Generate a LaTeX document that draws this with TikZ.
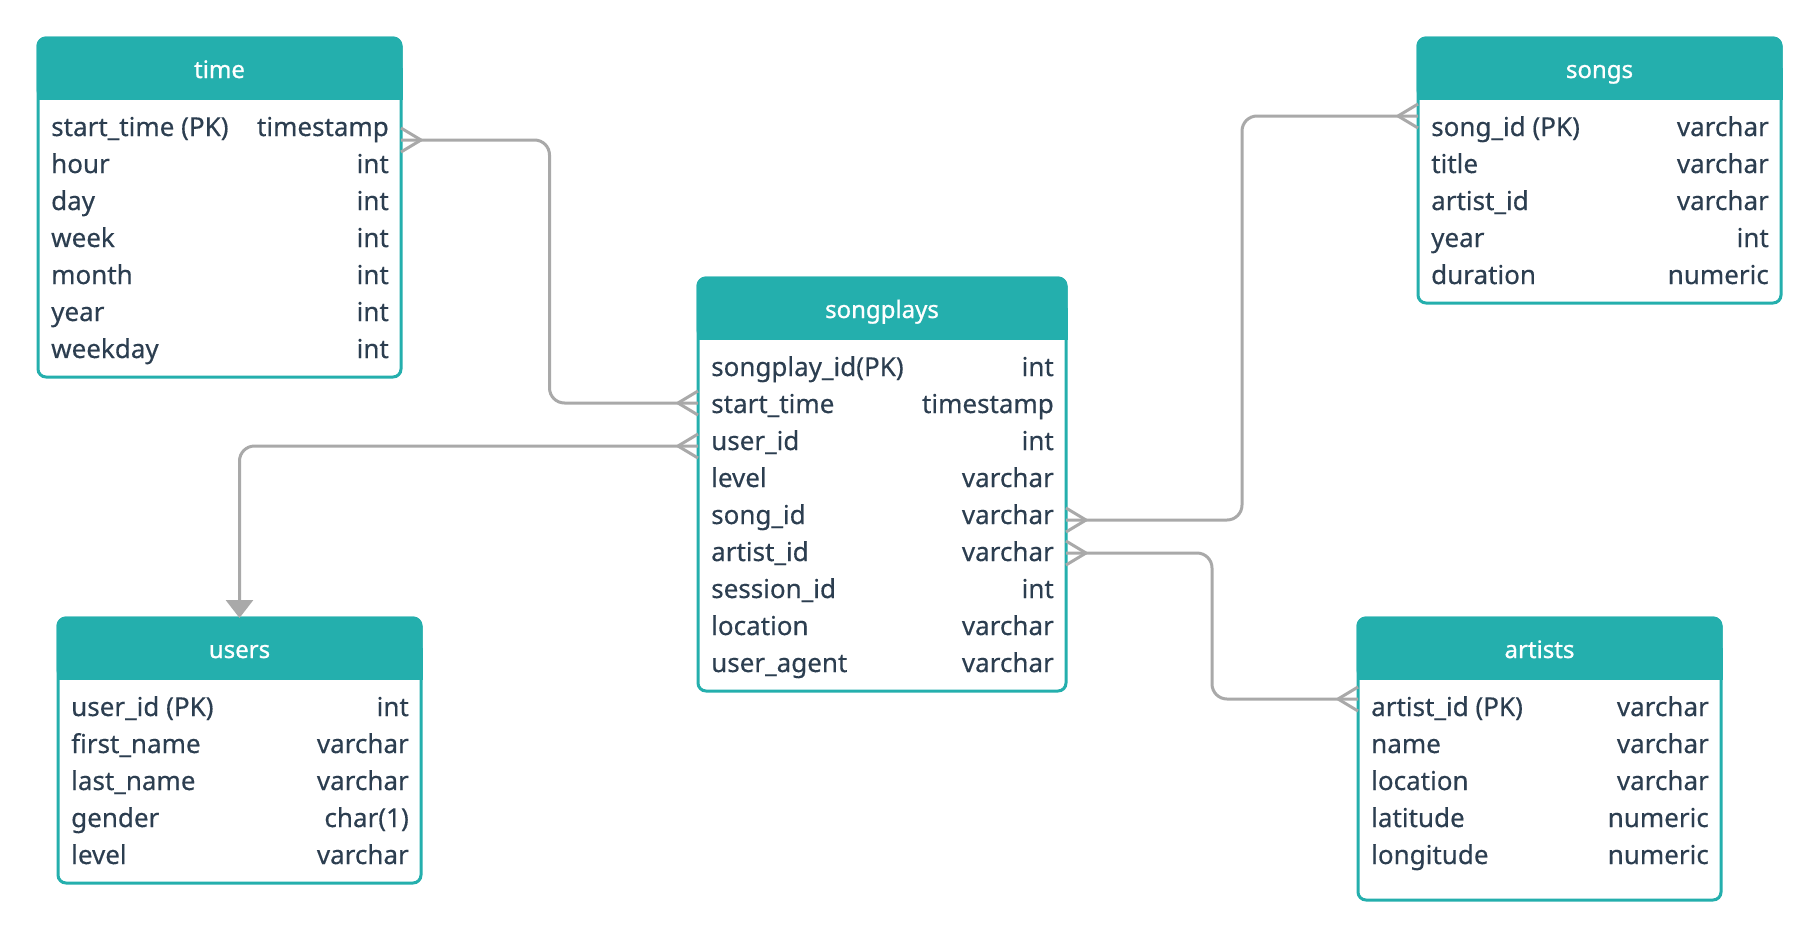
\documentclass[tikz,border=0pt]{standalone}
\usepackage{fontspec}
\setmainfont{Noto Sans}
\newfontfamily\bodyfont[FakeBold=0.35]{Noto Sans}
\newfontfamily\headfont[FakeBold=0.9]{Noto Sans}
\usetikzlibrary{calc,arrows.meta}
\definecolor{tealc}{HTML}{24AFAD}
\definecolor{navy}{HTML}{2C3E50}
\definecolor{conng}{HTML}{A9A9A9}
\tikzset{
  tbox/.style={draw=tealc, fill=white, line width=3pt, rounded corners=8pt, inner sep=0pt, outer sep=0pt, anchor=north west},
  thead/.style={draw=tealc, fill=tealc, line width=3pt, rounded corners=8pt, inner sep=0pt, outer sep=0pt, anchor=north west, minimum height=60pt},
  htext/.style={text=white, font=\headfont\fontsize{24}{28}\selectfont, anchor=base, inner sep=0pt},
  fname/.style={text=navy, font=\bodyfont\fontsize{26}{30}\selectfont, anchor=base west, inner sep=0pt},
  ftype/.style={text=navy, font=\bodyfont\fontsize{26}{30}\selectfont, anchor=base east, inner sep=0pt},
  conn/.style={draw=conng, line width=3pt, rounded corners=15pt},
  crowline/.style={draw=conng, line width=3pt},
}
\newcommand\dbtable[7]{%
  \node[tbox, minimum width=#4pt, minimum height=#5pt] (#1) at (#2,#3) {};
  \node[thead, minimum width=#4pt] (#1-h) at (#2,#3) {};
  \fill[tealc] ($(#1-h.south west)+(-1.5,-30)$) rectangle ($(#1-h.south east)+(1.5,1.5)$);
  \node[htext] (#1-title) at ($(#1.north)+(0,40)$) {#6};
  \foreach \n/\t [count=\i] in {#7} {
    \node[fname] (#1-n\i) at ($(#1.north west)+(13,{98+37*(\i-1)})$) {\n};
    \node[ftype] (#1-ty\i) at ($(#1.north east)+(-12,{98+37*(\i-1)})$) {\t};
  }%
}
\newcommand\crowfoot[2]{%
  \draw[crowline] ($(#1)+(#2*20,0)$) -- ($(#1)+(0,-12)$);
  \draw[crowline] ($(#1)+(#2*20,0)$) -- ($(#1)+(0,12)$);
}
\begin{document}
\begin{tikzpicture}[x=1pt,y=-1pt]
\useasboundingbox (0,0) rectangle (1820,940);
\fill[white] (0,0) rectangle (1820,940);

\dbtable{time}{38}{38}{363}{339}{time}{start\_time (PK)/timestamp, hour/int, day/int, week/int, month/int, year/int, weekday/int}
\dbtable{songs}{1418}{38}{363}{265}{songs}{song\_id (PK)/varchar, title/varchar, artist\_id/varchar, year/int, duration/numeric}
\dbtable{sp}{698}{278}{368}{413}{songplays}{songplay\_id(PK)/int, start\_time/timestamp, user\_id/int, level/varchar, song\_id/varchar, artist\_id/varchar, session\_id/int, location/varchar, user\_agent/varchar}
\dbtable{users}{58}{618}{363}{265}{users}{user\_id (PK)/int, first\_name/varchar, last\_name/varchar, gender/{char(1)}, level/varchar}
\dbtable{artists}{1358}{618}{363}{282}{artists}{artist\_id (PK)/varchar, name/varchar, location/varchar, latitude/numeric, longitude/numeric}

% time -- songplays
\coordinate (a1) at (time.east |- 0,140);
\coordinate (b1) at (sp.west |- 0,403);
\draw[conn] (a1) -| ($(a1)!0.5!(b1)$) |- (b1);
\crowfoot{a1}{1}
\crowfoot{b1}{-1}

% songplays -- users
\coordinate (b2) at (sp.west |- 0,446);
\draw[conn, -{Triangle[width=27pt,length=18pt]}] (b2) -| (users.north);
\crowfoot{b2}{-1}

% songplays -- songs
\coordinate (b3) at (sp.east |- 0,520);
\coordinate (a3) at (songs.west |- 0,116);
\draw[conn] (b3) -| ($(b3)!0.5!(a3)$) |- (a3);
\crowfoot{b3}{1}
\crowfoot{a3}{-1}

% songplays -- artists
\coordinate (b4) at (sp.east |- 0,553);
\coordinate (a4) at (artists.west |- 0,699);
\draw[conn] (b4) -| ($(b4)!0.5!(a4)$) |- (a4);
\crowfoot{b4}{1}
\crowfoot{a4}{-1}
\end{tikzpicture}
\end{document}
